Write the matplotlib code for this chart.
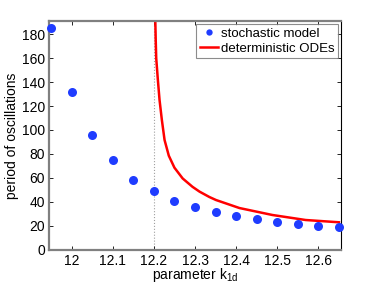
import matplotlib
matplotlib.use("Agg")
import matplotlib.pyplot as plt

plt.rcParams['font.family'] = ['Liberation Sans', 'DejaVu Sans']

# stochastic model points
k_stoch = [11.95, 12.0, 12.05, 12.1, 12.15, 12.2, 12.25, 12.3, 12.35, 12.4,
           12.45, 12.5, 12.55, 12.6, 12.65]
period_stoch = [185.5, 131.5, 96, 75, 58, 49, 41, 36, 31.5, 28.4,
                25.6, 23.4, 21.7, 20, 18.7]

# deterministic ODE curve
k_ode = [12.2025, 12.2035, 12.2045, 12.2057, 12.2097, 12.2138, 12.2194, 12.226,
         12.2363, 12.25, 12.27, 12.294, 12.311, 12.335, 12.351, 12.408,
         12.488, 12.569, 12.65]
period_ode = [205, 191, 175, 160, 141.8, 125, 108.4, 91.6,
              78.5, 68.5, 59.5, 52.5, 48.5, 44, 41.5, 34.8,
              29, 24.8, 22.9]

k_crit = 12.2

xticks = [12.0, 12.1, 12.2, 12.3, 12.4, 12.5, 12.6]
xticklabels = ['12', '12.1', '12.2', '12.3', '12.4', '12.5', '12.6']
yticks = [0, 20, 40, 60, 80, 100, 120, 140, 160, 180]

fig = plt.figure(figsize=(3.77, 2.84), dpi=100)
ax = fig.add_axes([49/377, 1 - 249.7/284, (341-49)/377, (249.7-21)/284])

ax.axvline(k_crit, color='#a0a0a0', linestyle=':', linewidth=0.8, zorder=1)
ax.plot(k_stoch, period_stoch, 'o', color='#1f3cff', markersize=6.5,
        markeredgewidth=0, label='stochastic model', zorder=3, clip_on=False)
ax.plot(k_ode, period_ode, '-', color='#ff0000', linewidth=1.8,
        label='deterministic ODEs', zorder=2)

ax.set_xlim(11.945, 12.655)
ax.set_ylim(0, 191)
ax.set_xticks(xticks)
ax.set_xticklabels(xticklabels)
ax.set_yticks(yticks)
ax.tick_params(direction='in', length=3, width=0.6, labelsize=10,
               top=True, right=True, colors='#000000', pad=3)
for s in ['left', 'bottom', 'top']:
    ax.spines[s].set_color('#808080')
    ax.spines[s].set_linewidth(1.6)
ax.spines['right'].set_color('#000000')
ax.spines['right'].set_linewidth(0.8)

ax.set_xlabel('parameter k$_{\\mathregular{1d}}$', fontsize=10, labelpad=-1)
ax.set_ylabel('period of oscillations', fontsize=10, labelpad=2)

leg = ax.legend(loc='upper right', fontsize=9.5, frameon=True, fancybox=False,
                borderpad=0.25, handlelength=1.4, handletextpad=0.2,
                labelspacing=0.2, borderaxespad=0.25, markerscale=0.7)
leg.get_frame().set_edgecolor('#707070')
leg.get_frame().set_linewidth(0.8)

fig.savefig('out.png', dpi=100)
